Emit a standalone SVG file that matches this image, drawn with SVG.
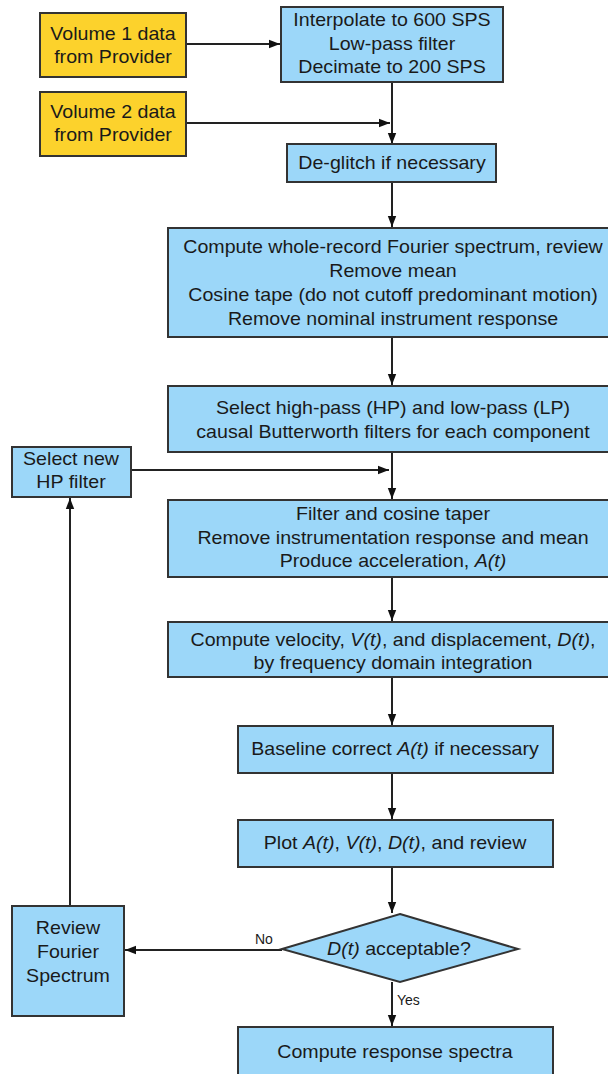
<svg xmlns="http://www.w3.org/2000/svg" width="608" height="1074" viewBox="0 0 608 1074">
<style>
.b{fill:#9cd7f9;stroke:#333;stroke-width:2}
.y{fill:#fcd22c;stroke:#333;stroke-width:2}
.t{font-family:"Liberation Sans",Arial,sans-serif;font-size:18px;fill:#1a1a1a;text-anchor:middle}
.s{font-family:"Liberation Sans",Arial,sans-serif;font-size:14px;fill:#1a1a1a}
.i{font-style:italic}
.c{fill:none;stroke:#222;stroke-width:2}
</style>
<defs>
<marker id="ah" viewBox="0 0 10 10" refX="10" refY="5" markerWidth="5.5" markerHeight="5.5" orient="auto" markerUnits="strokeWidth">
<path d="M0,1.2 L10,5 L0,8.8 z" fill="#111"/>
</marker>
</defs>
<rect width="608" height="1074" fill="#fff"/>
<g id="connectors">
<line class="c" x1="186" y1="44" x2="280" y2="44" marker-end="url(#ah)"/>
<line class="c" x1="392" y1="82" x2="392" y2="144" marker-end="url(#ah)"/>
<line class="c" x1="186" y1="123" x2="390" y2="123" marker-end="url(#ah)"/>
<line class="c" x1="392" y1="182" x2="392" y2="227" marker-end="url(#ah)"/>
<line class="c" x1="392" y1="337" x2="392" y2="385" marker-end="url(#ah)"/>
<line class="c" x1="392" y1="452" x2="392" y2="499" marker-end="url(#ah)"/>
<line class="c" x1="131" y1="470" x2="389" y2="470" marker-end="url(#ah)"/>
<line class="c" x1="392" y1="577" x2="392" y2="621" marker-end="url(#ah)"/>
<line class="c" x1="392" y1="677" x2="392" y2="725" marker-end="url(#ah)"/>
<line class="c" x1="392" y1="773" x2="392" y2="819" marker-end="url(#ah)"/>
<line class="c" x1="392" y1="867" x2="392" y2="913" marker-end="url(#ah)"/>
<line class="c" x1="392" y1="982" x2="392" y2="1026" marker-end="url(#ah)"/>
<line class="c" x1="282" y1="950" x2="125" y2="950" marker-end="url(#ah)"/>
<line class="c" x1="70" y1="906" x2="70" y2="498" marker-end="url(#ah)"/>
<text class="s" x="255" y="944">No</text>
<text class="s" x="397" y="1005">Yes</text>
</g>
<g id="vol1">
<rect class="y" x="40" y="13" width="146" height="64"/>
<text class="t" transform="translate(113 40) scale(1.09 1)">Volume 1 data</text>
<text class="t" transform="translate(113 63) scale(1.09 1)">from Provider</text>
</g>
<g id="vol2">
<rect class="y" x="40" y="92" width="146" height="64"/>
<text class="t" transform="translate(113 118) scale(1.09 1)">Volume 2 data</text>
<text class="t" transform="translate(113 141) scale(1.09 1)">from Provider</text>
</g>
<g id="interp">
<rect class="b" x="281" y="7" width="222" height="75"/>
<text class="t" transform="translate(392 26) scale(1.09 1)">Interpolate to 600 SPS</text>
<text class="t" transform="translate(392 50) scale(1.09 1)">Low-pass filter</text>
<text class="t" transform="translate(392 73) scale(1.09 1)">Decimate to 200 SPS</text>
</g>
<g id="deglitch">
<rect class="b" x="287" y="144" width="209" height="38"/>
<text class="t" transform="translate(392 169) scale(1.09 1)">De-glitch if necessary</text>
</g>
<g id="compute">
<rect class="b" x="168" y="228" width="441" height="109"/>
<text class="t" transform="translate(393 253) scale(1.09 1)">Compute whole-record Fourier spectrum, review</text>
<text class="t" transform="translate(393 277) scale(1.09 1)">Remove mean</text>
<text class="t" transform="translate(393 301) scale(1.09 1)">Cosine tape (do not cutoff predominant motion)</text>
<text class="t" transform="translate(393 325) scale(1.09 1)">Remove nominal instrument response</text>
</g>
<g id="selectfilters">
<rect class="b" x="168" y="386" width="441" height="66"/>
<text class="t" transform="translate(393 414) scale(1.09 1)">Select high-pass (HP) and low-pass (LP)</text>
<text class="t" transform="translate(393 438) scale(1.09 1)">causal Butterworth filters for each component</text>
</g>
<g id="selectnew">
<rect class="b" x="12" y="447" width="119" height="50"/>
<text class="t" transform="translate(71 465) scale(1.09 1)">Select new</text>
<text class="t" transform="translate(71 488) scale(1.09 1)">HP filter</text>
</g>
<g id="filter">
<rect class="b" x="168" y="500" width="441" height="77"/>
<text class="t" transform="translate(393 520) scale(1.09 1)">Filter and cosine taper</text>
<text class="t" transform="translate(393 544) scale(1.09 1)">Remove instrumentation response and mean</text>
<text class="t" transform="translate(393 567) scale(1.09 1)">Produce acceleration, <tspan class="i">A(t)</tspan></text>
</g>
<g id="velocity">
<rect class="b" x="168" y="622" width="441" height="55"/>
<text class="t" transform="translate(393 646) scale(1.09 1)">Compute velocity, <tspan class="i">V(t)</tspan>, and displacement, <tspan class="i">D(t)</tspan>,</text>
<text class="t" transform="translate(393 669) scale(1.09 1)">by frequency domain integration</text>
</g>
<g id="baseline">
<rect class="b" x="238" y="726" width="315" height="47"/>
<text class="t" transform="translate(395 755) scale(1.09 1)">Baseline correct <tspan class="i">A(t)</tspan> if necessary</text>
</g>
<g id="plot">
<rect class="b" x="238" y="820" width="315" height="47"/>
<text class="t" transform="translate(395 849) scale(1.09 1)">Plot <tspan class="i">A(t)</tspan>, <tspan class="i">V(t)</tspan>, <tspan class="i">D(t)</tspan>, and review</text>
</g>
<g id="decision">
<polygon class="b" points="400,914 518,949 400,982 282,949"/>
<text class="t" transform="translate(399 955) scale(1.09 1)"><tspan class="i">D(t)</tspan> acceptable?</text>
</g>
<g id="review">
<rect class="b" x="12" y="906" width="112" height="110"/>
<text class="t" transform="translate(68 934) scale(1.09 1)">Review</text>
<text class="t" transform="translate(68 958) scale(1.09 1)">Fourier</text>
<text class="t" transform="translate(68 982) scale(1.09 1)">Spectrum</text>
</g>
<g id="responsespectra">
<rect class="b" x="238" y="1027" width="315" height="50"/>
<text class="t" transform="translate(395 1058) scale(1.09 1)">Compute response spectra</text>
</g>
</svg>
